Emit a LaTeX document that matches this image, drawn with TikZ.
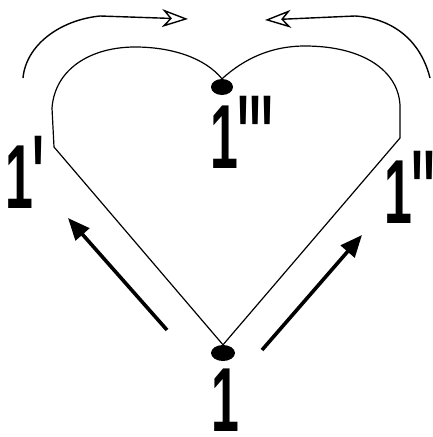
\documentclass[tikz,border=0pt]{standalone}
\usepackage{fontspec}
\usetikzlibrary{arrows.meta,shapes.geometric}
\newfontfamily\numfont{Liberation Sans}
\newcommand{\bignum}{\numfont\bfseries\fontsize{91}{91}\selectfont}
\newcommand{\pr}{\raisebox{-.07em}{\scalebox{1}[1.25]{\textquotesingle}}}

\tikzset{
  dot/.style={ellipse, fill=black, inner sep=0pt, minimum width=24pt, minimum height=16pt},
  heart/.style={line width=1.2pt, line join=round},
  bend arrow/.style={line width=1.4pt, -{Stealth[open, length=26pt, width=18pt, inset=8pt]}},
  push arrow/.style={line width=3.6pt, -{Triangle[length=22pt, width=18pt]}},
  numlabel/.style={font=\bignum, inner sep=0pt, anchor=base west, xscale=0.55}
}

\begin{document}
\begin{tikzpicture}[x=1pt, y=-1pt]
  \useasboundingbox (0,0) rectangle (432,437);

  % the two dots
  \node[dot] (bot) at (223,353) {};
  \node[dot, minimum width=22pt] (top) at (222,87) {};

  % heart outline
  \draw[heart] (bot.north) -- (54,147) -- (52,108)
    .. controls (55,68) and (92,47) .. (135,47)
    .. controls (172,47) and (205,58) .. (top.north)
    .. controls (245,58) and (272,46) .. (305,46)
    .. controls (362,46) and (398,70) .. (400,105)
    -- (400,138) -- (bot.north);

  % bent arrows over the lobes
  \coordinate (ls) at (23,78);
  \coordinate (le) at (188,19);
  \draw[bend arrow] (ls) .. controls (26,45) and (60,20) .. (100,16) -- (le);
  \coordinate (rs) at (430,78);
  \coordinate (re) at (265,20);
  \draw[bend arrow] (rs) .. controls (420,38) and (390,18) .. (355,16) -- (re);

  % thick arrows up the sides
  \coordinate (la) at (167,330);
  \coordinate (lt) at (68,218);
  \draw[push arrow] (la) -- (lt);
  \coordinate (ra) at (262,350);
  \coordinate (rt) at (362,235);
  \draw[push arrow] (ra) -- (rt);

  % labels
  \node[numlabel] (one) at (211,431) {1};
  \node[numlabel] (onea) at (5,208) {1\pr};
  \node[numlabel] (oneb) at (384,223) {1\pr\pr};
  \node[numlabel] (onec) at (210,168) {1\pr\pr\pr};
\end{tikzpicture}
\end{document}
